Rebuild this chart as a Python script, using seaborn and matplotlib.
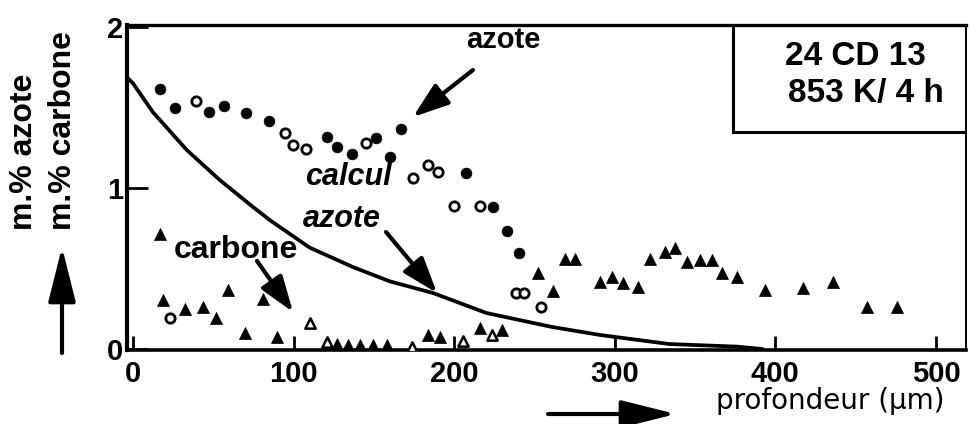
import matplotlib
matplotlib.use("Agg")
import matplotlib.pyplot as plt
from matplotlib.patches import Rectangle
import seaborn as sns
import pandas as pd

# ---------------- data ----------------
azote_x = [16.8, 26.2, 47.3, 56.7, 70.4, 84.7, 120.8, 127.0, 136.4, 151.3,
           160.0, 166.9, 207.3, 224.2, 232.9, 240.3]
azote_y = [1.615, 1.497, 1.472, 1.509, 1.466, 1.416, 1.317, 1.255, 1.211, 1.311,
           1.193, 1.366, 1.093, 0.882, 0.733, 0.596]

azote_open_x = [39.2, 94.6, 99.6, 107.7, 145.1, 174.3, 183.7, 189.9, 199.9,
                216.1, 238.5, 243.5, 254.0, 23.0]
azote_open_y = [1.540, 1.342, 1.267, 1.242, 1.280, 1.062, 1.143, 1.099, 0.888,
                0.888, 0.348, 0.348, 0.261, 0.193]

carbone_x = [16.8, 18.7, 32.4, 43.6, 51.7, 59.2, 80.9, 69.7, 89.7, 127.0,
             133.9, 141.3, 149.4, 158.2, 183.7, 191.2, 216.1, 229.8, 252.2,
             261.5, 269.0, 275.2, 290.8, 298.3, 305.1, 314.4, 321.9, 331.3,
             337.5, 345.0, 353.0, 360.5, 366.7, 376.1, 393.5, 417.2, 435.9,
             457.0, 475.7]
carbone_y = [0.714, 0.304, 0.248, 0.261, 0.193, 0.366, 0.311, 0.099, 0.075,
             0.031, 0.025, 0.025, 0.025, 0.025, 0.087, 0.075, 0.130, 0.118,
             0.472, 0.360, 0.559, 0.559, 0.416, 0.447, 0.410, 0.385, 0.559,
             0.602, 0.627, 0.540, 0.553, 0.553, 0.472, 0.447, 0.366, 0.379,
             0.416, 0.261, 0.261]

carbone_open_x = [110.2, 120.8, 173.7, 205.5, 223.5]
carbone_open_y = [0.161, 0.043, 0.012, 0.050, 0.087]

calcul_x = [-3.0, 0.0, 12.5, 33.6, 54.0, 75.0, 85.3, 110.0, 137.0, 160.0,
            186.8, 220.0, 261.0, 291.0, 334.0, 376.0, 392.0]
calcul_y = [1.68, 1.65, 1.47, 1.235, 1.05, 0.88, 0.80, 0.63, 0.509, 0.42,
            0.348, 0.224, 0.137, 0.087, 0.031, 0.015, 0.0]

x_ticks = [0, 100, 200, 300, 400, 500]
y_ticks = [0, 1, 2]

box_lines = ["24 CD 13", "853 K/ 4 h"]

# ---------------- figure ----------------
sns.set_theme(style="white")
plt.rcParams["font.family"] = ["Liberation Sans", "DejaVu Sans"]

W, H = 971, 424
fig = plt.figure(figsize=(W / 100, H / 100), dpi=100)
fig.patch.set_facecolor("white")
ax = fig.add_axes([127 / W, 1 - 350 / H, (966 - 127) / W, (350 - 25) / H])
ax.set_facecolor("white")


def fp(x, y):
    return (x / W, 1 - y / H)


df_c = pd.DataFrame({"x": calcul_x, "y": calcul_y})
sns.lineplot(data=df_c, x="x", y="y", ax=ax, color="black", lw=2.7,
             sort=False, estimator=None)

df_a = pd.DataFrame({"x": azote_x, "y": azote_y})
sns.scatterplot(data=df_a, x="x", y="y", ax=ax, marker="o", s=60,
                color="black", edgecolor="black", linewidth=0.5, zorder=3)
df_ao = pd.DataFrame({"x": azote_open_x, "y": azote_open_y})
sns.scatterplot(data=df_ao, x="x", y="y", ax=ax, marker="o", s=45,
                color="white", edgecolor="black", linewidth=2.0, zorder=3)
df_cb = pd.DataFrame({"x": carbone_x, "y": carbone_y})
sns.scatterplot(data=df_cb, x="x", y="y", ax=ax, marker="^", s=75,
                color="black", edgecolor="black", linewidth=0.5, zorder=3)
df_cbo = pd.DataFrame({"x": carbone_open_x, "y": carbone_open_y})
sns.scatterplot(data=df_cbo, x="x", y="y", ax=ax, marker="^", s=55,
                color="white", edgecolor="black", linewidth=1.8, zorder=3)

ax.set_xlim(-3.7, 518.7)
ax.set_ylim(-0.006, 2.012)
ax.set_xlabel("")
ax.set_ylabel("")
ax.set_xticks(x_ticks)
ax.set_yticks(y_ticks)
ax.set_xticklabels([str(v) for v in x_ticks], fontsize=21, fontweight="bold")
ax.set_yticklabels([str(v) for v in y_ticks], fontsize=21, fontweight="bold")
ax.tick_params(axis="x", direction="in", length=10, width=2, pad=7,
               colors="black", bottom=True)
ax.tick_params(axis="y", direction="in", length=15, width=2, pad=3,
               colors="black", left=True)
for side, lw in (("left", 3.0), ("bottom", 2.6), ("top", 2.4), ("right", 1.4)):
    ax.spines[side].set_visible(True)
    ax.spines[side].set_color("black")
    ax.spines[side].set_linewidth(lw)

# box with sample info
ax.add_patch(Rectangle(fp(733, 132), (966 - 733) / W, (132 - 25) / H,
                       transform=fig.transFigure, fill=False,
                       edgecolor="black", lw=2.2, zorder=5))
fig.text(*fp(855, 65), box_lines[0], ha="center", va="baseline",
         fontsize=24, fontweight="bold", color="black")
fig.text(*fp(866, 102), box_lines[1], ha="center", va="baseline",
         fontsize=24, fontweight="bold", color="black")

# labels in the plot
fig.text(*fp(503, 48), "azote", ha="center", va="baseline",
         fontsize=21, fontweight="bold", color="black")
fig.text(*fp(348, 185), "calcul", ha="center", va="baseline",
         fontsize=22, fontweight="bold", style="italic", color="black")
fig.text(*fp(342, 227), "azote", ha="center", va="baseline",
         fontsize=22, fontweight="bold", style="italic", color="black")
fig.text(*fp(236, 258), "carbone", ha="center", va="baseline",
         fontsize=23, fontweight="bold", color="black")

arrow_kw = dict(arrowstyle="-|>,head_length=1.0,head_width=0.35",
                color="black", lw=3.0, shrinkA=0, shrinkB=0)
for (x0, y0), (x1, y1) in [((473, 70), (413, 117)),
                           ((386, 232), (437, 293)),
                           ((257, 261), (293, 312))]:
    ax.annotate("", xy=fp(x1, y1), xytext=fp(x0, y0),
                xycoords="figure fraction", textcoords="figure fraction",
                arrowprops=dict(**arrow_kw, mutation_scale=22))

# axis titles
fig.text(*fp(24, 230), "m.% azote", rotation=90, rotation_mode="anchor",
         ha="left", va="center", fontsize=23, fontweight="bold",
         color="black")
fig.text(*fp(63, 230), "m.% carbone", rotation=90, rotation_mode="anchor",
         ha="left", va="center", fontsize=23, fontweight="bold",
         color="black")
ax.annotate("", xy=fp(62, 247), xytext=fp(62, 353),
            xycoords="figure fraction", textcoords="figure fraction",
            arrowprops=dict(arrowstyle="-|>,head_length=1.4,head_width=0.35",
                            color="black", lw=3.0, shrinkA=0, shrinkB=0,
                            mutation_scale=24))
fig.text(*fp(830, 409), "profondeur (µm)", ha="center", va="baseline",
         fontsize=20, family="DejaVu Sans", color="black")
ax.annotate("", xy=fp(676, 414), xytext=fp(548, 414),
            xycoords="figure fraction", textcoords="figure fraction",
            arrowprops=dict(arrowstyle="-|>,head_length=1.4,head_width=0.35",
                            color="black", lw=3.0, shrinkA=0, shrinkB=0,
                            mutation_scale=24))

fig.savefig("out.png", dpi=100, facecolor="white")
